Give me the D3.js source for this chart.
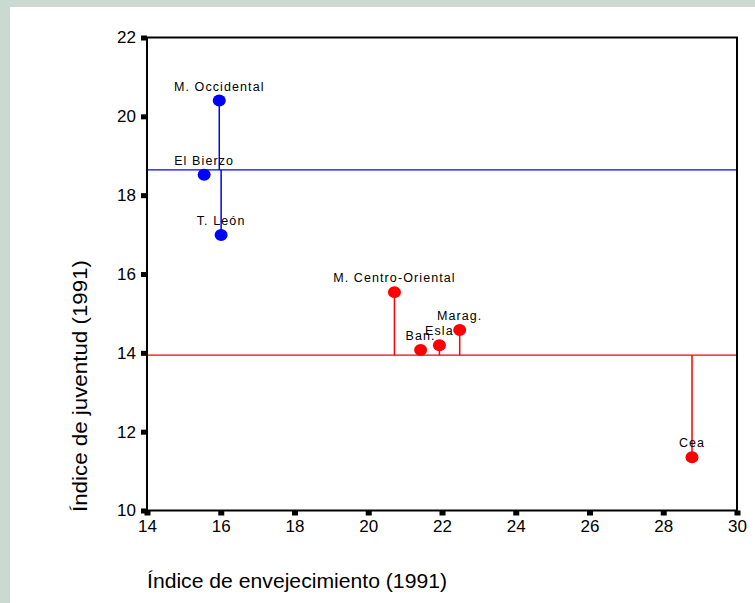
<!DOCTYPE html>
<html>
<head>
<meta charset="utf-8">
<script src="https://cdn.jsdelivr.net/npm/d3@7"></script>
<style>
html,body{margin:0;padding:0;background:#cad9d1;}
svg{display:block;}
</style>
</head>
<body>
<svg id="chart" width="755" height="603"></svg>
<script>
// Data
const names = ["M. Occidental","El Bierzo","T. León","M. Centro-Oriental","Ban.","Esla","Marag.","Cea"];
const envejecimiento = [15.96, 15.55, 16.01, 20.71, 21.42, 21.93, 22.48, 28.78];
const juventud = [20.40, 18.52, 16.99, 15.54, 14.07, 14.19, 14.58, 11.35];
const groups = [0, 0, 0, 1, 1, 1, 1, 1];
const groupMeans = [18.64, 13.94];
const groupColors = ["#0000ff", "#ff0000"];
const xTicks = [14, 16, 18, 20, 22, 24, 26, 28, 30];
const yTicks = [10, 12, 14, 16, 18, 20, 22];

const svg = d3.select("#chart");
svg.append("rect").attr("x",10).attr("y",7).attr("width",745).attr("height",596).attr("fill","#ffffff");

const L = 147, R = 737, T = 37.5, B = 510.5;
const x = d3.scaleLinear().domain([14, 30]).range([L, R]);
const y = d3.scaleLinear().domain([10, 22]).range([B, T]);

const font = "'Liberation Sans', Arial, sans-serif";

// group mean lines
groupMeans.forEach((m, g) => {
  svg.append("line").attr("x1", L).attr("x2", R).attr("y1", y(m)).attr("y2", y(m))
    .attr("stroke", groupColors[g]).attr("stroke-width", 1.3);
});

// drop lines
const data = names.map((n, i) => ({name: n, x: envejecimiento[i], y: juventud[i], g: groups[i]}));
svg.selectAll("line.drop").data(data).enter().append("line").attr("class","drop")
  .attr("x1", d => x(d.x)).attr("x2", d => x(d.x))
  .attr("y1", d => y(d.y)).attr("y2", d => y(groupMeans[d.g]))
  .attr("stroke", d => groupColors[d.g]).attr("stroke-width", 1.5);

// points
svg.selectAll("ellipse.pt").data(data).enter().append("ellipse").attr("class","pt")
  .attr("cx", d => x(d.x)).attr("cy", d => y(d.y)).attr("rx", 6.5).attr("ry", 6)
  .attr("fill", d => groupColors[d.g]);

// labels
svg.selectAll("text.lab").data(data).enter().append("text").attr("class","lab")
  .attr("x", d => x(d.x)).attr("y", d => y(d.y) - 10)
  .attr("text-anchor","middle").attr("font-family", font).attr("font-size", 12.5)
  .attr("letter-spacing", 1.1)
  .attr("fill","#000").text(d => d.name);

// frame
svg.append("rect").attr("x", L).attr("y", T).attr("width", R - L).attr("height", B - T)
  .attr("fill","none").attr("stroke","#000").attr("stroke-width",2);

// axes
const yAxis = svg.append("g").attr("transform", `translate(${L},0)`)
  .call(d3.axisLeft(y).tickValues(yTicks).tickSize(0).tickPadding(11).tickFormat(d3.format("d")));
const xAxis = svg.append("g").attr("transform", `translate(0,${B})`)
  .call(d3.axisBottom(x).tickValues(xTicks).tickSize(0).tickPadding(9).tickFormat(d3.format("d")));
[yAxis, xAxis].forEach(a => {
  a.select(".domain").remove();
  a.selectAll("text").attr("font-family", font).attr("font-size", 17).attr("fill","#000");
});
// square tick marks
yAxis.selectAll(".tick").append("rect").attr("x",-6).attr("y",-2.5).attr("width",6).attr("height",5).attr("fill","#000");
xAxis.selectAll(".tick").append("rect").attr("x",-3).attr("y",0).attr("width",6).attr("height",5).attr("fill","#000");

// axis titles
svg.append("text").attr("x", L).attr("y", 588).attr("font-family", font).attr("font-size", 20.5)
  .attr("textLength", 300).attr("lengthAdjust","spacingAndGlyphs")
  .attr("fill","#000").text("Índice de envejecimiento (1991)");
svg.append("text").attr("transform", `translate(87,386) rotate(-90)`)
  .attr("text-anchor","middle").attr("font-family", font).attr("font-size", 20).attr("fill","#000")
  .attr("textLength", 252).attr("lengthAdjust","spacingAndGlyphs")
  .text("Índice de juventud (1991)");
</script>
</body>
</html>
